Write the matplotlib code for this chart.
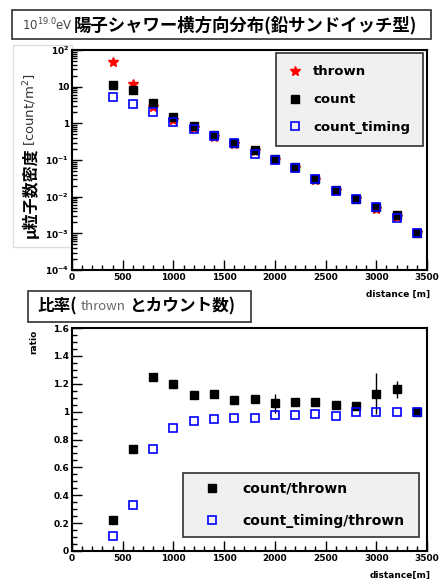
import matplotlib
matplotlib.use("Agg")
import matplotlib.pyplot as plt
import numpy as np
from matplotlib.patches import Rectangle
from matplotlib.ticker import FixedLocator, MultipleLocator, FuncFormatter, LogLocator, NullFormatter

# 距離 [m]
distance = [400, 600, 800, 1000, 1200, 1400, 1600, 1800, 2000, 2200, 2400, 2600, 2800, 3000, 3200, 3400]

# 上段：粒子数密度 [count/m^2]
thrown = [48, 12, 2.8, 1.25, 0.76, 0.42, 0.28, 0.175, 0.10, 0.059, 0.029, 0.0143, 0.0086, 0.0045, 0.0028, 0.001]
count = [11.1, 8.1, 3.5, 1.5, 0.85, 0.48, 0.30, 0.19, 0.107, 0.063, 0.031, 0.015, 0.0089, 0.0051, 0.0032, 0.001]
count_timing = [5.3, 3.4, 2.1, 1.1, 0.69, 0.45, 0.285, 0.15, 0.10, 0.059, 0.030, 0.0146, 0.0087, 0.0051, 0.0027, 0.001]

# 下段：比率
ratio_count = [0.22, 0.73, 1.25, 1.20, 1.12, 1.13, 1.08, 1.09, 1.06, 1.07, 1.07, 1.05, 1.04, 1.13, 1.16, 1.0]
ratio_count_err = [0.01, 0.03, 0.01, 0.01, 0.01, 0.01, 0.01, 0.01, 0.07, 0.01, 0.02, 0.01, 0.02, 0.15, 0.06, 0.0]
ratio_timing = [0.11, 0.33, 0.73, 0.88, 0.93, 0.948, 0.952, 0.952, 0.974, 0.974, 0.98, 0.967, 1.0, 1.0, 1.0, 1.0]

x_ticks = [0, 500, 1000, 1500, 2000, 2500, 3000, 3500]

jp = ['Noto Sans CJK JP', 'DejaVu Sans']
tick_font = dict(family='DejaVu Sans', weight='bold', size=6.5)

W, H = 442, 579
fig = plt.figure(figsize=(W / 100, H / 100), dpi=100)
renderer = fig.canvas.get_renderer()


def fx(px):
    return px / W


def fy(py):
    return 1 - py / H


def box(x0, y0, x1, y1, ec='#303030', fc='white', lw=1.2):
    fig.add_artist(Rectangle((fx(x0), fy(y1)), fx(x1 - x0), (y1 - y0) / H,
                             transform=fig.transFigure, ec=ec, fc=fc, lw=lw, zorder=0))


def chain(x, y, parts, rotation=0, gap=2):
    # 文字列を横（または縦）に続けて並べる
    for s, kw in parts:
        if rotation == 0:
            t = fig.text(fx(x), fy(y), s, va='center', ha='left', **kw)
            x += t.get_window_extent(renderer).width + gap
        else:
            t = fig.text(fx(x), fy(y), s, va='bottom', ha='center', rotation=90, **kw)
            y -= t.get_window_extent(renderer).height + gap


def style_axis(ax):
    for s in ax.spines.values():
        s.set_linewidth(1.5)
    ax.tick_params(which='both', direction='in', top=False, right=False, pad=2)
    ax.tick_params(which='major', length=7, width=1)
    ax.tick_params(which='minor', length=3.5, width=1)
    ax.set_xlim(0, 3500)
    ax.xaxis.set_major_locator(FixedLocator(x_ticks))
    ax.xaxis.set_minor_locator(MultipleLocator(100))
    for lab in ax.get_xticklabels() + ax.get_yticklabels():
        lab.set_fontproperties(matplotlib.font_manager.FontProperties(**tick_font))


# ---------- 上段 ----------
box(12, 10, 431, 39)
chain(22, 25, [(r'10$^{19.0}$eV', dict(fontsize=8.5, color='#444444')),
               ('陽子シャワー横方向分布(鉛サンドイッチ型)', dict(family=jp, fontsize=12.5, weight='bold'))],
      gap=1)

box(13, 45, 72, 247, ec='#dddddd', lw=1)
chain(30, 238, [('μ粒子数密度', dict(family=jp, fontsize=11.5, weight='bold')),
                ('[count/m$^2$]', dict(family='DejaVu Sans', fontsize=9.5, color='#333333'))],
      rotation=90, gap=1)

ax1 = fig.add_axes([fx(72), fy(270), fx(427 - 72), (270 - 50) / H])
ax1.set_yscale('log')
ax1.set_ylim(1e-4, 1e2)
ax1.plot(distance, thrown, ls='none', marker='*', color='red', ms=7, label='thrown', zorder=2)
ax1.plot(distance, count, ls='none', marker='s', color='black', ms=5.5, label='count', zorder=3)
ax1.plot(distance, count_timing, ls='none', marker='s', mfc='none', mec='blue', mew=1.2,
         ms=5.5, label='count_timing', zorder=4)
ax1.yaxis.set_major_locator(LogLocator(base=10, numticks=10))
ax1.yaxis.set_minor_locator(LogLocator(base=10, subs=np.arange(2, 10), numticks=10))
ax1.yaxis.set_minor_formatter(NullFormatter())


def log_fmt(v, pos):
    e = int(round(np.log10(v)))
    if e == 0:
        return '1'
    if e == 1:
        return '10'
    return r'$\mathbf{10^{%d}}$' % e


ax1.yaxis.set_major_formatter(FuncFormatter(log_fmt))
style_axis(ax1)
ax1.text(1.01, -0.09, 'distance [m]', transform=ax1.transAxes, ha='right', va='top',
         fontsize=6.5, weight='bold')
leg1 = ax1.legend(loc='upper left', bbox_to_anchor=(0.575, 0.568, 0.414, 0.418), mode='expand',
                  borderaxespad=0, fancybox=False, facecolor='#f0f0f0', edgecolor='#303030',
                  framealpha=1, prop=dict(weight='bold', size=9.5), labelspacing=1.12,
                  borderpad=0.94, handlelength=1.0, handletextpad=0.86)
leg1.get_frame().set_linewidth(1.2)

# ---------- 下段 ----------
box(28, 291, 251, 322)
chain(37, 306, [('比率(', dict(family=jp, fontsize=12, weight='bold')),
                ('thrown', dict(family=jp, fontsize=9.5, color='#666666')),
                ('とカウント数)', dict(family=jp, fontsize=12, weight='bold'))], gap=4)

ax2 = fig.add_axes([fx(72), fy(551), fx(427 - 72), (551 - 328) / H])
ax2.set_ylim(0, 1.6)
eb = ax2.errorbar(distance, ratio_count, yerr=ratio_count_err, ls='none', marker='s', color='black',
                  ms=5.5, elinewidth=1, capsize=0, label='count/thrown', zorder=3)
ln, = ax2.plot(distance, ratio_timing, ls='none', marker='s', mfc='none', mec='blue', mew=1.2,
               ms=5.5, label='count_timing/thrown', zorder=4)
ax2.yaxis.set_major_locator(MultipleLocator(0.2))
ax2.yaxis.set_minor_locator(MultipleLocator(0.05))
ax2.yaxis.set_major_formatter(FuncFormatter(lambda v, p: '%g' % round(v, 1)))
style_axis(ax2)
ax2.text(1.01, -0.09, 'distance[m]', transform=ax2.transAxes, ha='right', va='top',
         fontsize=6.5, weight='bold')
fig.text(fx(34), fy(330), 'ratio', fontsize=6.5, weight='bold', rotation=90, ha='center', va='top')
leg2 = ax2.legend([eb[0], ln], ['count/thrown', 'count_timing/thrown'],
                  loc='upper left', bbox_to_anchor=(0.313, 0.067, 0.664, 0.283), mode='expand',
                  borderaxespad=0, fancybox=False, facecolor='#f0f0f0', edgecolor='#303030',
                  framealpha=1, prop=dict(weight='bold', size=10), labelspacing=1.3,
                  borderpad=0.65, handlelength=2.9, handletextpad=0.72)
leg2.get_frame().set_linewidth(1.2)

fig.savefig('out.png', dpi=100)
